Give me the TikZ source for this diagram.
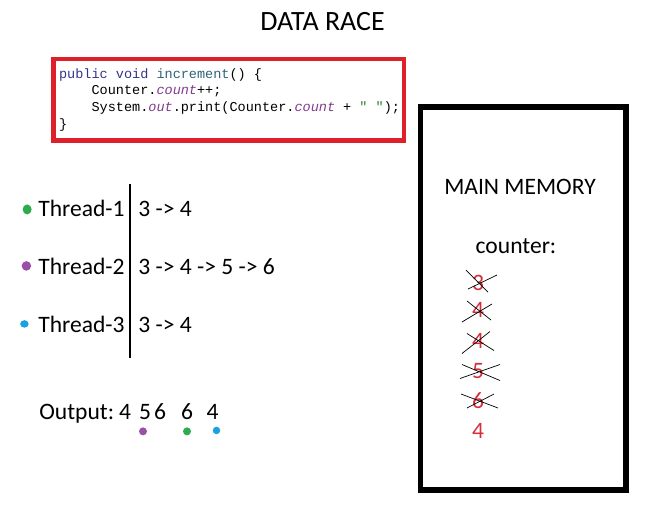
\documentclass[tikz,border=0pt]{standalone}
\usepackage{fontspec}
\setmainfont{Carlito}
\setmonofont{Liberation Mono}
\usetikzlibrary{positioning,shapes.geometric}

\definecolor{boxred}{RGB}{221,32,42}
\definecolor{kwblue}{RGB}{52,52,140}
\definecolor{methteal}{RGB}{45,100,120}
\definecolor{fieldpurple}{RGB}{128,60,140}
\definecolor{strgreen}{RGB}{40,135,40}
\definecolor{valred}{RGB}{212,46,58}
\definecolor{dotgreen}{RGB}{46,170,80}
\definecolor{dotpurple}{RGB}{155,80,168}
\definecolor{dotblue}{RGB}{27,161,226}

\begin{document}
\begin{tikzpicture}[x=0.02cm, y=-0.02cm,
  txt/.style={font=\fontsize{13.4}{16}\selectfont, inner sep=0pt, anchor=base west},
  title/.style={font=\fontsize{15.9}{19}\selectfont, inner sep=0pt, anchor=base},
  code/.style={font=\ttfamily\fontsize{7.7}{9.5}\selectfont, inner sep=0pt, align=left},
  codebox/.style={draw=boxred, line width=2.6pt, minimum width=7.01cm, minimum height=1.63cm},
  membox/.style={draw, line width=3.1pt, minimum width=4.11cm, minimum height=7.66cm},
  memval/.style={text=valred, font=\fontsize{13.4}{16}\selectfont, inner sep=0pt},
  strike/.style={thin, black},
  dot/.style={fill=#1, ellipse, inner sep=0pt, minimum width=0.18cm, minimum height=0.2cm},
  smalldot/.style={fill=#1, circle, inner sep=0pt, minimum size=0.16cm}]
  \useasboundingbox (0,0) rectangle (650,508);

  \node[title] (race) at (322.5,30) {DATA RACE};

  \node[codebox] (codebox) at (228.75,99.75) {};
  \node[code, right=0.15cm of codebox.west] (src) {%
    \textcolor{kwblue}{public void} \textcolor{methteal}{increment}() \{\\
    \phantom{xxxx}Counter.\textcolor{fieldpurple}{\itshape count}++;\\
    \phantom{xxxx}System.\textcolor{fieldpurple}{\itshape out}.print(Counter.\textcolor{fieldpurple}{\itshape count} + \textcolor{strgreen}{" "});\\
    \}};

  \node[txt] (t1) at (38,216) {Thread-1};
  \node[txt] (t2) at (38,274) {Thread-2};
  \node[txt] (t3) at (38,332) {Thread-3};
  \node[dot=dotgreen, left=0.12cm of t1, yshift=-0.03cm] (d1) {};
  \node[dot=dotpurple, left=0.13cm of t2, minimum width=0.19cm, minimum height=0.19cm] (d2) {};
  \node[dot=dotblue, left=0.18cm of t3, minimum width=0.17cm, minimum height=0.15cm] (d3) {};

  \coordinate (ltop) at (130,184);
  \coordinate (lbot) at (130,358);
  \draw[line width=1.7pt] (ltop) -- (lbot);

  \node[txt] (v1) at (138,216) {3 -> 4};
  \node[txt] (v2) at (138,274) {3 -> 4 -> 5 -> 6};
  \node[txt] (v3) at (138,332) {3 -> 4};

  \node[txt] (out) at (39,419) {Output:};
  \foreach \x/\v [count=\i] in {125/4, 145/5, 160/6, 187/6, 212.5/4}
    \node[txt, anchor=base] (o\i) at (\x,419) {\v};
  \node[smalldot=dotpurple, below=0.15cm of o2, xshift=-0.04cm] (p2) {};
  \node[smalldot=dotgreen, below=0.15cm of o4] (p4) {};
  \node[smalldot=dotblue, below=0.14cm of o5, xshift=0.08cm, minimum size=0.15cm] (p5) {};

  \node[membox] (mem) at (523.25,298.5) {};
  \node[txt, anchor=base] (mmlabel) at (520,194) {MAIN MEMORY};
  \node[txt, anchor=base] (cnt) at (516,253) {counter:};
  \foreach \y/\v [count=\i] in {283/3, 310/4, 340.5/4, 371.5/5, 401/6, 430.5/4}
    \node[memval] (m\i) at (478,\y) {\v};

  \draw[strike] (m1.center) +(-12,-13) -- +(10,9) (m1.center) +(-10,6) -- +(19,-8);
  \draw[strike] (m2.center) +(-11,-9) -- +(13,10) (m2.center) +(-16,12) -- +(14,-6);
  \draw[strike] (m3.center) +(-11,-7) -- +(16,10) (m3.center) +(-16,13) -- +(12,-9);
  \draw[strike] (m4.center) +(-16,-7) -- +(22,9) (m4.center) +(-18,7) -- +(22,-7);
  \draw[strike] (m5.center) +(-17,-7) -- +(20,7) (m5.center) +(-11,7) -- +(16,-7);
\end{tikzpicture}
\end{document}
